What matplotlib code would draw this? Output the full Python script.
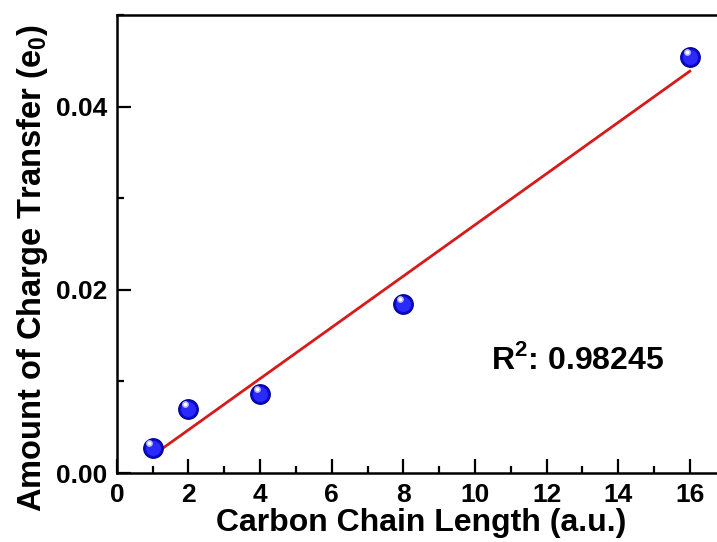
import numpy as np
import matplotlib
matplotlib.use("Agg")
import matplotlib.pyplot as plt
from matplotlib.ticker import MultipleLocator

plt.rcParams['font.family'] = ['Liberation Sans', 'DejaVu Sans']
plt.rcParams['font.weight'] = 'bold'
plt.rcParams['mathtext.fontset'] = 'custom'
plt.rcParams['mathtext.rm'] = 'Liberation Sans:bold'
plt.rcParams['mathtext.bf'] = 'Liberation Sans:bold'

chain_length = [1, 2, 4, 8, 16]
charge_transfer = [0.00273, 0.0070, 0.00863, 0.01847, 0.04546]
r2_label = "R$^2$: 0.98245"

fig = plt.figure(figsize=(7.17, 5.42), dpi=100)
ax = fig.add_axes([0.163, 0.1273, 0.849, 0.845])

x = np.array(chain_length)
y = np.array(charge_transfer)
slope, intercept = np.polyfit(x, y, 1)
xf = np.array([x.min(), x.max()])
ax.plot(xf, slope * xf + intercept, color='#d71a1a', lw=2, zorder=2)

# sphere-like markers
ax.scatter(x, y, s=200, color='#0a0ad0', edgecolors='#00008a', linewidths=0.8, zorder=3)
ax.scatter(x, y, s=115, color='#2a2aff', linewidths=0, zorder=4)
ax.scatter(x - 0.09, y + 0.0005, s=24, color='#b8b8ff', linewidths=0, zorder=5)
ax.scatter(x - 0.09, y + 0.0005, s=7, color='white', linewidths=0, zorder=6)

ax.set_xlim(0, 17)
ax.set_ylim(0, 0.05)
ax.xaxis.set_major_locator(MultipleLocator(2))
ax.xaxis.set_minor_locator(MultipleLocator(1))
ax.yaxis.set_major_locator(MultipleLocator(0.02))
ax.yaxis.set_minor_locator(MultipleLocator(0.01))
ax.yaxis.set_major_formatter(matplotlib.ticker.FormatStrFormatter('%.2f'))

ax.tick_params(which='both', direction='in', width=1.6, labelsize=19,
               top=False, right=False)
ax.tick_params(which='major', length=10, pad=7)
ax.tick_params(which='minor', length=5)
for lab in ax.get_xticklabels() + ax.get_yticklabels():
    lab.set_fontweight('bold')
for sp in ax.spines.values():
    sp.set_linewidth(1.8)

ax.set_xlabel("Carbon Chain Length (a.u.)", fontsize=23, fontweight='bold', labelpad=1)
ax.set_ylabel("Amount of Charge Transfer (e$_0$)", fontsize=23.5, fontweight='bold')
ax.yaxis.set_label_coords(-0.110, 0.448)
ax.text(10.45, 0.0123, r2_label, fontsize=23, fontweight='bold', va='center', ha='left')

fig.savefig("out.png", dpi=100)
